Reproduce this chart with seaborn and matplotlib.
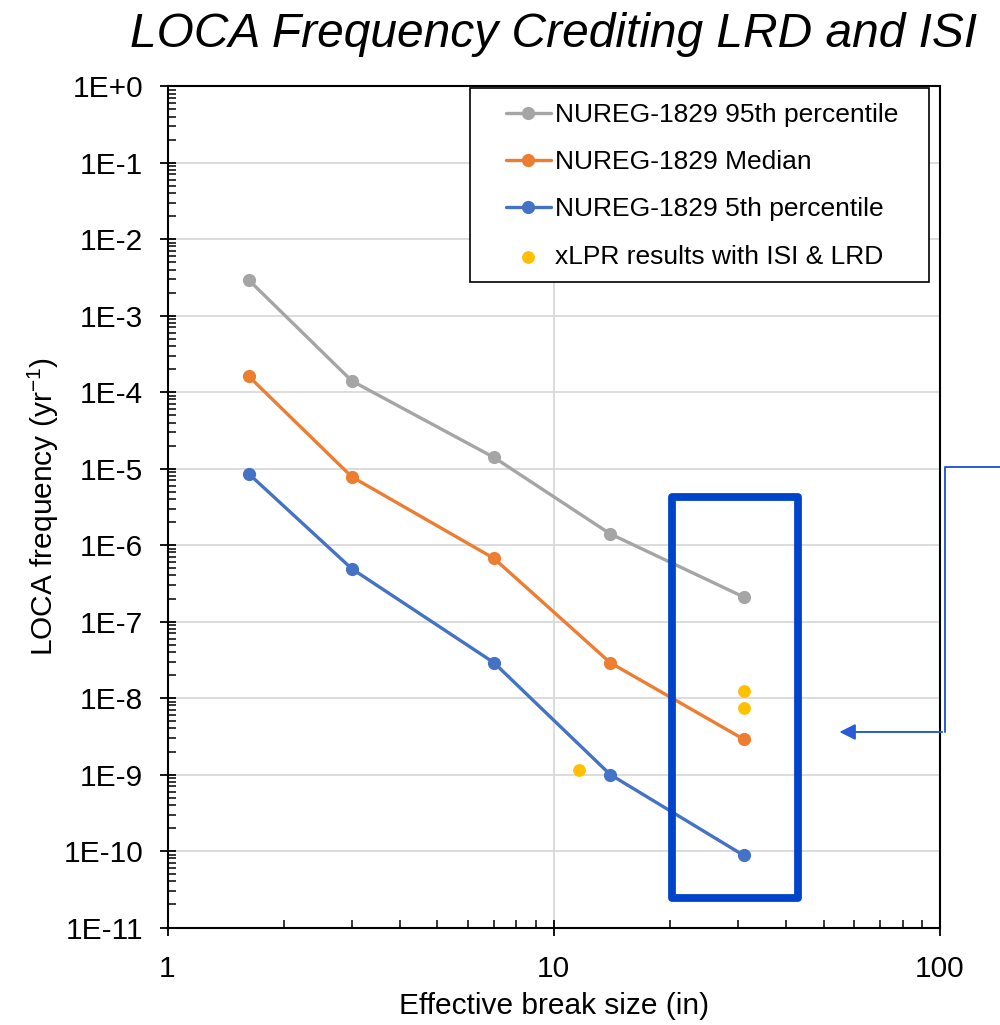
import matplotlib
matplotlib.use("Agg")
import matplotlib.pyplot as plt
import seaborn as sns
import numpy as np
import pandas as pd
from matplotlib.patches import Rectangle
from matplotlib.ticker import LogLocator, NullFormatter, FixedLocator

# Data
break_size = [1.625, 3, 7, 14, 31]
p95 = [2.9e-3, 1.4e-4, 1.4e-5, 1.4e-6, 2.1e-7]
median = [1.6e-4, 7.8e-6, 6.7e-7, 2.9e-8, 2.9e-9]
p05 = [8.5e-6, 4.9e-7, 2.9e-8, 1.0e-9, 8.8e-11]

xlpr_size = [11.6, 31, 31]
xlpr_freq = [1.15e-9, 1.25e-8, 7.4e-9]

series_names = ["NUREG-1829 95th percentile", "NUREG-1829 Median", "NUREG-1829 5th percentile"]
series_colors = ["#A5A5A5", "#ED7D31", "#4472C4"]
xlpr_name = "xLPR results with ISI & LRD"
xlpr_color = "#FFC000"

y_ticks = [10.0 ** e for e in range(0, -12, -1)]
y_ticklabels = ["1E+0"] + ["1E-%d" % e for e in range(1, 12)]

# highlight box and arrow (data coords)
box_x = (20.2, 42.9)
box_y = (2.4e-11, 4.26e-6)
arrow_tip = (54, 3.6e-9)
arrow_elbow_x = 103
arrow_top_y = 1.06e-5
arrow_end_x = 160

sns.set_style("white")
plt.rcParams["font.family"] = ["Liberation Sans", "DejaVu Sans"]
plt.rcParams["mathtext.default"] = "regular"
for key in ["text.color", "axes.labelcolor", "xtick.color", "ytick.color"]:
    plt.rcParams[key] = "black"

df = pd.DataFrame({
    "size": break_size * 3,
    "freq": p95 + median + p05,
    "series": np.repeat(series_names, len(break_size)),
})

fig = plt.figure(figsize=(10, 10.25), dpi=100)
ax = fig.add_axes([0.1675, 0.0951, 0.7725, 0.8209])

for name, color in zip(series_names, series_colors):
    sns.lineplot(data=df[df["series"] == name], x="size", y="freq", color=color,
                 linewidth=2.4, marker="o", markersize=9.5, markeredgewidth=0,
                 label=name, ax=ax)
sns.scatterplot(x=xlpr_size, y=xlpr_freq, color=xlpr_color, s=85, linewidth=0,
                label=xlpr_name, ax=ax, zorder=3)

ax.set_xscale("log")
ax.set_yscale("log")
ax.set_xlim(1, 100)
ax.set_ylim(1e-11, 1)

ax.yaxis.set_major_locator(FixedLocator(y_ticks))
ax.set_yticklabels(y_ticklabels)
ax.yaxis.set_minor_locator(LogLocator(base=10, subs=np.arange(2, 10), numticks=50))
ax.yaxis.set_minor_formatter(NullFormatter())
ax.xaxis.set_major_locator(FixedLocator([1, 10, 100]))
ax.set_xticklabels(["1", "10", "100"])
ax.xaxis.set_minor_locator(LogLocator(base=10, subs=np.arange(2, 10), numticks=50))
ax.xaxis.set_minor_formatter(NullFormatter())

ax.tick_params(which="major", direction="inout", length=11, width=1.3,
               labelsize=21.5, color="black", left=True, bottom=True)
ax.tick_params(axis="y", which="major", pad=12)
ax.tick_params(axis="x", which="major", pad=14)
ax.tick_params(which="minor", direction="in", length=6, width=1.1,
               color="black", left=True, bottom=True)

ax.grid(True, which="major", axis="y", color="#d9d9d9", linewidth=1.3)
ax.axvline(10, color="#d9d9d9", linewidth=1.3, zorder=0)
for s in ax.spines.values():
    s.set_color("black")
    s.set_linewidth(1.5)

ax.set_xlabel("Effective break size (in)", fontsize=21.5, labelpad=7)
ax.set_ylabel("LOCA frequency (yr$^{-1}$)", fontsize=21.5, labelpad=2)
ax.set_title("LOCA Frequency Crediting LRD and ISI", fontsize=34.5, style="italic", pad=28)

leg = ax.legend(loc="upper right", fontsize=19, frameon=False, borderaxespad=0,
                handlelength=1.7, handletextpad=0.15, labelspacing=0.88,
                borderpad=0.45, bbox_to_anchor=(0.961, 0.994))
leg.set_zorder(6)

# Excel-style legend frame: wider side margins than matplotlib's even padding
fig.canvas.draw()
bb = leg.get_window_extent(fig.canvas.get_renderer())
(x0, y0), (x1, y1) = fig.transFigure.inverted().transform([(bb.x0 - 24, bb.y0 - 1), (bb.x1 + 19, bb.y1 + 3)])
ax.add_patch(Rectangle((x0, y0), x1 - x0, y1 - y0, transform=fig.transFigure,
                       facecolor="white", edgecolor="black", linewidth=1.2,
                       zorder=5.5, clip_on=False))

rect = Rectangle((box_x[0], box_y[0]), box_x[1] - box_x[0], box_y[1] - box_y[0],
                 fill=False, edgecolor="#0044CC", linewidth=5.6, joinstyle="round",
                 zorder=4)
ax.add_patch(rect)

ax.plot([arrow_end_x, arrow_elbow_x, arrow_elbow_x], [arrow_top_y, arrow_top_y, arrow_tip[1]],
        color="#2A5BD7", linewidth=1.4, clip_on=False, zorder=5)
ax.annotate("", xy=arrow_tip, xytext=(arrow_elbow_x, arrow_tip[1]),
            arrowprops=dict(arrowstyle="-|>", color="#2A5BD7", lw=1.4, mutation_scale=24),
            annotation_clip=False, zorder=5)

fig.savefig("out.png", dpi=100)
